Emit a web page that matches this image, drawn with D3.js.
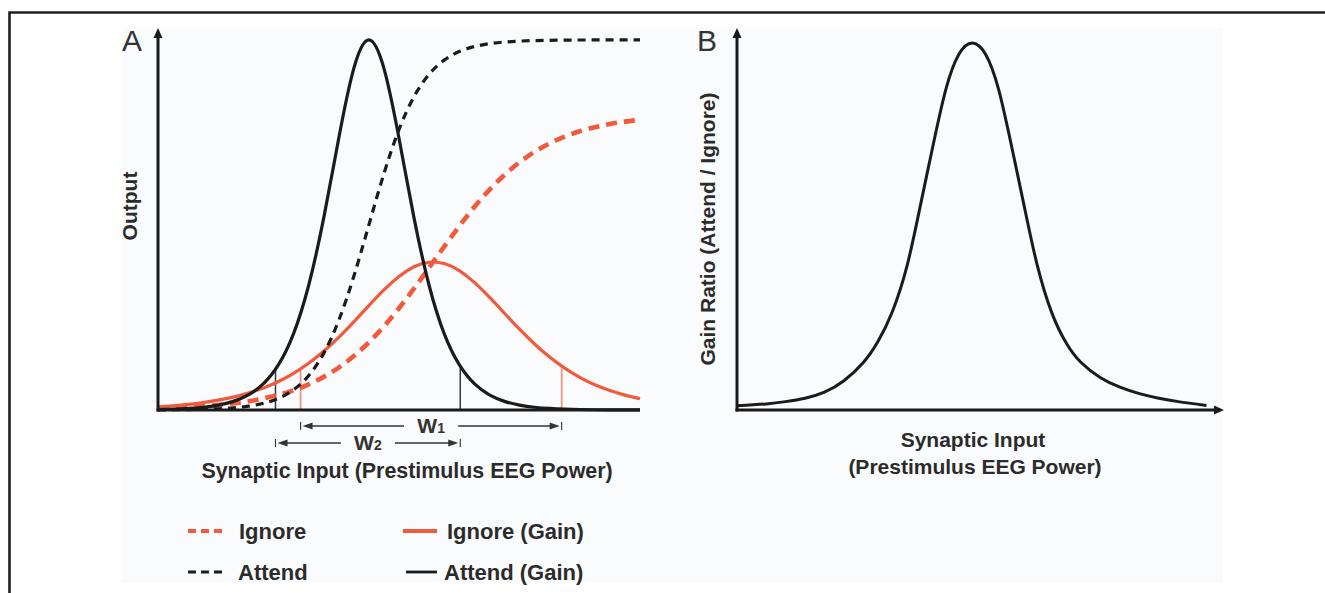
<!DOCTYPE html>
<html>
<head>
<meta charset="utf-8">
<script src="https://cdn.jsdelivr.net/npm/d3@7"></script>
<style>
  html, body { margin: 0; padding: 0; background: #ffffff; }
  svg { display: block; }
  text { font-family: "Liberation Sans", Arial, Helvetica, sans-serif; }
</style>
</head>
<body>
<svg id="fig" width="1325" height="593"></svg>
<script>
// ---- Panel A: synaptic input grid (arbitrary units) ----
const inputA = [0, 1.5, 3, 4.5, 6, 7.5, 9, 10.5, 12, 13.5, 15, 16.5, 18, 19.5, 21, 22.5, 24,
  25.5, 27, 28.5, 30, 31.5, 33, 34.5, 36, 37.5, 39, 40.5, 42, 43.5, 45, 46.5, 48];

// output (input-output functions)
const ignoreOutput = [0.0042, 0.0056, 0.0075, 0.0099, 0.0131, 0.0173, 0.0229, 0.0302, 0.0396,
  0.0517, 0.0674, 0.0872, 0.1117, 0.1419, 0.1781, 0.2201, 0.2679, 0.3199, 0.3747, 0.4301,
  0.4838, 0.5340, 0.5793, 0.6186, 0.6519, 0.6794, 0.7016, 0.7193, 0.7334, 0.7442, 0.7525,
  0.7589, 0.7638];
const attendOutput = [0.0003, 0.0006, 0.0010, 0.0018, 0.0032, 0.0057, 0.0100, 0.0176, 0.0308,
  0.0532, 0.0903, 0.1490, 0.2359, 0.3518, 0.4870, 0.6222, 0.7381, 0.8250, 0.8837, 0.9208,
  0.9432, 0.9563, 0.9640, 0.9683, 0.9708, 0.9722, 0.9729, 0.9734, 0.9737, 0.9738, 0.9740,
  0.9740, 0.9740];

// gain (slope of each input-output function)
const ignoreGain = [0.0084, 0.0112, 0.0148, 0.0195, 0.0258, 0.0339, 0.0444, 0.0580, 0.0751,
  0.0966, 0.1231, 0.1548, 0.1914, 0.2321, 0.2747, 0.3159, 0.3515, 0.3771, 0.3889, 0.3853,
  0.3667, 0.3359, 0.2970, 0.2547, 0.2127, 0.1738, 0.1393, 0.1102, 0.0860, 0.0665, 0.0512,
  0.0392, 0.0298];
const attendGain = [0.0013, 0.0023, 0.0041, 0.0073, 0.0129, 0.0227, 0.0398, 0.0693, 0.1193,
  0.2010, 0.3277, 0.5049, 0.7151, 0.8989, 0.9740, 0.8989, 0.7151, 0.5049, 0.3277, 0.2010,
  0.1193, 0.0693, 0.0398, 0.0227, 0.0129, 0.0073, 0.0041, 0.0023, 0.0013, 0.0007, 0.0004,
  0.0002, 0.0001];

// tuning-width edges (W1 = ignore, W2 = attend) and the gain level they are taken at
const ignoreEdges = [14.2, 40.2];
const attendEdges = [11.7, 30.1];
const edgeLevel = 0.11;
const widthLabels = ["1", "2"];

// ---- Panel B: gain ratio (attend / ignore) ----
const inputB = [0, 3, 5, 7, 9, 11, 13, 14.5, 16, 17.5, 18.8, 20.2, 21.5, 22.8, 24.2,
  25.6, 26.9, 28.2, 29.6, 30.9, 32.4, 33.9, 35.4, 37.4, 39.4, 41.4, 43.4, 45.4, 48.3];
const gainRatio = [0.011, 0.016, 0.022, 0.031, 0.047, 0.077, 0.125, 0.180, 0.260, 0.380,
  0.530, 0.700, 0.845, 0.935, 0.966, 0.935, 0.845, 0.700, 0.530, 0.380, 0.255, 0.175,
  0.125, 0.085, 0.060, 0.043, 0.031, 0.022, 0.012];

// ---- text ----
const panelLetters = ["A", "B"];
const yTitleA = "Output";
const xTitleA = "Synaptic Input (Prestimulus EEG Power)";
const yTitleB = "Gain Ratio (Attend / Ignore)";
const xTitleB = ["Synaptic Input", "(Prestimulus EEG Power)"];
const legendLabels = ["Ignore", "Attend", "Ignore (Gain)", "Attend (Gain)"];

// ---- styling ----
const RED = "#f15a3c";
const INK = "#1b1b1b";
const TEXT = "#2b2b2b";

const svg = d3.select("#fig");

// frame and panel backdrop
svg.append("rect").attr("x", 122).attr("y", 28).attr("width", 1101).attr("height", 555)
  .attr("fill", "#fafbfd");
svg.append("path").attr("d", "M9.5,593V12.5H1325")
  .attr("fill", "none").attr("stroke", "#231f20").attr("stroke-width", 2.6);

// scales
const xA = d3.scaleLinear().domain([0, 48]).range([158, 640]);
const yA = d3.scaleLinear().domain([0, 1]).range([410, 30]);
const xB = d3.scaleLinear().domain([0, 50]).range([737, 1223]);
const yB = d3.scaleLinear().domain([0, 1]).range([410, 30]);

function axes(g, x, y, xArrow) {
  const x0 = x.range()[0], x1 = x.range()[1];
  const y0 = y.range()[0], y1 = y.range()[1];
  g.append("line").attr("x1", x0).attr("y1", y0 + 1.5).attr("x2", x0).attr("y2", y1 + 6)
    .attr("stroke", INK).attr("stroke-width", 3);
  g.append("path").attr("d", `M${x0},${y1 - 2}L${x0 - 4.5},${y1 + 8}L${x0 + 4.5},${y1 + 8}Z`)
    .attr("fill", INK);
  g.append("line").attr("x1", x0 - 1.5).attr("y1", y0).attr("x2", xArrow ? x1 - 6 : x1).attr("y2", y0)
    .attr("stroke", INK).attr("stroke-width", 3);
  if (xArrow) {
    g.append("path").attr("d", `M${x1 + 1},${y0}L${x1 - 9},${y0 - 4.5}L${x1 - 9},${y0 + 4.5}Z`)
      .attr("fill", INK);
  }
}

// ---------------- Panel A ----------------
const gA = svg.append("g");
const lineA = d3.line().x(d => xA(d[0])).y(d => yA(d[1])).curve(d3.curveNatural);
const series = (vals) => inputA.map((x, i) => [x, vals[i]]);

// width markers
gA.selectAll("line.edgeI").data(ignoreEdges).join("line")
  .attr("x1", d => xA(d)).attr("x2", d => xA(d))
  .attr("y1", yA(0)).attr("y2", yA(edgeLevel))
  .attr("stroke", "#f4937d").attr("stroke-width", 1.8);
gA.selectAll("line.edgeA").data(attendEdges).join("line")
  .attr("x1", d => xA(d)).attr("x2", d => xA(d))
  .attr("y1", yA(0)).attr("y2", yA(edgeLevel))
  .attr("stroke", "#2e3a40").attr("stroke-width", 1.5);

gA.append("path").attr("d", lineA(series(ignoreGain)))
  .attr("fill", "none").attr("stroke", RED).attr("stroke-width", 3.2);
gA.append("path").attr("d", lineA(series(ignoreOutput)))
  .attr("fill", "none").attr("stroke", RED).attr("stroke-width", 4.6)
  .attr("stroke-dasharray", "11,7");
gA.append("path").attr("d", lineA(series(attendOutput)))
  .attr("fill", "none").attr("stroke", INK).attr("stroke-width", 3.2)
  .attr("stroke-dasharray", "8,6");
gA.append("path").attr("d", lineA(series(attendGain)))
  .attr("fill", "none").attr("stroke", INK).attr("stroke-width", 3.2);

axes(gA, xA, yA, false);

// W1 / W2 width brackets
function bracket(g, edges, yy, sub) {
  const a = xA(edges[0]), b = xA(edges[1]), mid = (a + b) / 2, gap = 27;
  const col = "#333";
  g.append("line").attr("x1", a).attr("x2", a).attr("y1", yy - 4).attr("y2", yy + 4)
    .attr("stroke", col).attr("stroke-width", 1.1);
  g.append("line").attr("x1", b).attr("x2", b).attr("y1", yy - 4).attr("y2", yy + 4)
    .attr("stroke", col).attr("stroke-width", 1.1);
  g.append("line").attr("x1", a + 8).attr("x2", mid - gap).attr("y1", yy).attr("y2", yy)
    .attr("stroke", col).attr("stroke-width", 1.4);
  g.append("line").attr("x1", mid + gap).attr("x2", b - 8).attr("y1", yy).attr("y2", yy)
    .attr("stroke", col).attr("stroke-width", 1.4);
  g.append("path").attr("d", `M${a + 2},${yy}L${a + 12},${yy - 3.5}L${a + 12},${yy + 3.5}Z`).attr("fill", col);
  g.append("path").attr("d", `M${b - 2},${yy}L${b - 12},${yy - 3.5}L${b - 12},${yy + 3.5}Z`).attr("fill", col);
  const t = g.append("text").attr("x", mid).attr("y", yy + 7).attr("text-anchor", "middle")
    .attr("font-weight", "bold").attr("fill", col).attr("font-size", 21);
  t.append("tspan").text("W");
  t.append("tspan").attr("font-size", 14).text(sub);
}
bracket(gA, ignoreEdges, 426, widthLabels[0]);
bracket(gA, attendEdges, 443, widthLabels[1]);

svg.append("text").attr("x", 122).attr("y", 51).attr("font-size", 30).attr("fill", "#333")
  .text(panelLetters[0]);
svg.append("text").attr("transform", "translate(137,206) rotate(-90)")
  .attr("text-anchor", "middle").attr("font-weight", "bold").attr("font-size", 21)
  .attr("fill", TEXT).text(yTitleA);
svg.append("text").attr("x", 407).attr("y", 478).attr("text-anchor", "middle")
  .attr("font-weight", "bold").attr("font-size", 21.4).attr("fill", TEXT).text(xTitleA);

// legend
const legend = [
  { label: legendLabels[0], color: RED, dash: "8,5", w: 4.2, x0: 188, x1: 222, tx: 239, y: 531 },
  { label: legendLabels[1], color: INK, dash: "8,5", w: 3, x0: 188, x1: 222, tx: 238, y: 572 },
  { label: legendLabels[2], color: RED, dash: null, w: 4, x0: 403, x1: 437, tx: 447, y: 531 },
  { label: legendLabels[3], color: INK, dash: null, w: 2.8, x0: 406, x1: 437, tx: 444, y: 572 }
];
const lg = svg.append("g").selectAll("g").data(legend).join("g");
lg.append("line").attr("x1", d => d.x0).attr("x2", d => d.x1).attr("y1", d => d.y).attr("y2", d => d.y)
  .attr("stroke", d => d.color).attr("stroke-width", d => d.w)
  .attr("stroke-dasharray", d => d.dash);
lg.append("text").attr("x", d => d.tx).attr("y", d => d.y + 8)
  .attr("font-weight", "bold").attr("font-size", 22).attr("fill", TEXT).text(d => d.label);

// ---------------- Panel B ----------------
const gB = svg.append("g");
const lineB = d3.line().x(d => xB(d[0])).y(d => yB(d[1])).curve(d3.curveNatural);
gB.append("path").attr("d", lineB(inputB.map((x, i) => [x, gainRatio[i]])))
  .attr("fill", "none").attr("stroke", INK).attr("stroke-width", 3);
axes(gB, xB, yB, true);

svg.append("text").attr("x", 697).attr("y", 51).attr("font-size", 30).attr("fill", "#333")
  .text(panelLetters[1]);
svg.append("text").attr("transform", "translate(715,229) rotate(-90)")
  .attr("text-anchor", "middle").attr("font-weight", "bold").attr("font-size", 21)
  .attr("fill", TEXT).text(yTitleB);
svg.append("text").attr("x", 973).attr("y", 447).attr("text-anchor", "middle")
  .attr("font-weight", "bold").attr("font-size", 21).attr("fill", TEXT).text(xTitleB[0]);
svg.append("text").attr("x", 975).attr("y", 474).attr("text-anchor", "middle")
  .attr("font-weight", "bold").attr("font-size", 21).attr("fill", TEXT).text(xTitleB[1]);
</script>
</body>
</html>
